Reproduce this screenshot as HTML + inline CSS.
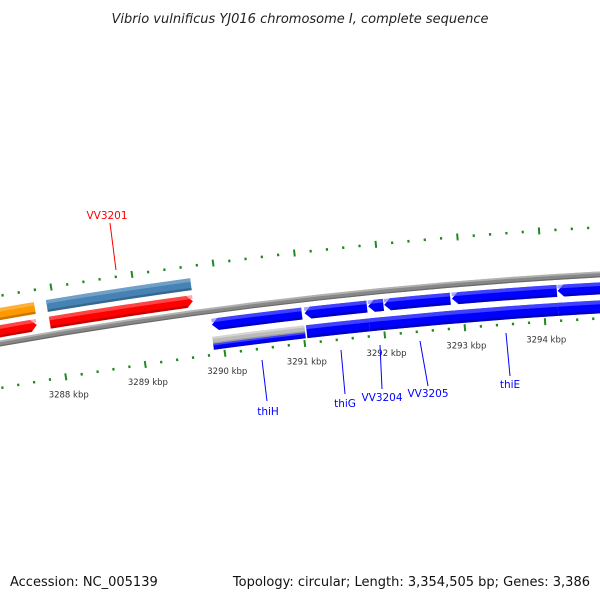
<!DOCTYPE html>
<html><head><meta charset="utf-8"><style>
html,body{margin:0;padding:0;background:#fff;}
svg{display:block;font-family:"DejaVu Sans","Liberation Sans",sans-serif;}
</style></head><body>
<svg id="chart" width="600" height="600" viewBox="0 0 600 600" xmlns="http://www.w3.org/2000/svg">
<rect width="600" height="600" fill="#fff"/>
<text x="300" y="23" text-anchor="middle" font-size="13" font-style="italic" fill="#222">Vibrio vulnificus YJ016 chromosome I, complete sequence</text>
<g id="rings"></g>
<g id="genes"></g>
<g id="labels"></g>
<text x="10" y="586" font-size="13" fill="#111">Accession: NC_005139</text>
<text x="590" y="586" text-anchor="end" font-size="13" fill="#111">Topology: circular; Length: 3,354,505 bp; Genes: 3,386</text>
</svg>
<script>
// tick data (kbp)
const majorTicks = [3286,3287,3288,3289,3290,3291,3292,3293,3294,3295,3296];
const tickLabels = ["3288 kbp","3289 kbp","3290 kbp","3291 kbp","3292 kbp","3293 kbp","3294 kbp"];
const tickLabelPos = [3288,3289,3290,3291,3292,3293,3294];
// features: start kbp, end kbp
const fwdRow1Start = [3286.5, 3287.914];
const fwdRow1End   = [3287.752, 3289.693];
const fwdRow1Color = ["#ff0000","#ff0000"];
const fwdRow2Start = [3286.5, 3287.912];
const fwdRow2End   = [3287.762, 3289.697];
const fwdRow2Color = ["#ff9900","#4682b4"];
const revRow1Start = [3289.887, 3291.04, 3291.83, 3292.03, 3292.87, 3294.18];
const revRow1End   = [3291.006, 3291.815, 3292.02, 3292.85, 3294.17, 3295.6];
const revRow2Start = [3289.87, 3291.04, 3291.82, 3294.17];
const revRow2End   = [3291.02, 3291.82, 3294.17, 3295.6];
const revRow2Gray  = [true, false, false, false];
const geneLabels = ["VV3201","thiH","thiG","VV3204","VV3205","thiE"];
const geneLabelColor = ["#ff0000","#0000ff","#0000ff","#0000ff","#0000ff","#0000ff"];

const NS="http://www.w3.org/2000/svg";
const cx=871, cy=5267, R0=5000;
const th=k=>-0.1145+(k-3291)*0.01623;
const P=(k,r)=>[cx+r*Math.sin(th(k)), cy-r*Math.cos(th(k))];
const f=v=>v.toFixed(2);
function mk(tag,attrs,parent){const e=document.createElementNS(NS,tag);for(const a in attrs)e.setAttribute(a,attrs[a]);parent.appendChild(e);return e;}
function band(k1,k2,r1,r2,dir){
  const h=0.075, m=(r1+r2)/2;
  let a=k1,b=k2;
  if(dir>0) b=k2-h; if(dir<0) a=k1+h;
  const p1=P(a,r2),p2=P(b,r2),p3=P(b,r1),p4=P(a,r1);
  let d="M"+f(p1[0])+","+f(p1[1])+" A"+r2+","+r2+" 0 0 1 "+f(p2[0])+","+f(p2[1]);
  if(dir>0){const t=P(k2,m);d+=" L"+f(t[0])+","+f(t[1]);}
  d+=" L"+f(p3[0])+","+f(p3[1])+" A"+r1+","+r1+" 0 0 0 "+f(p4[0])+","+f(p4[1]);
  if(dir<0){const t=P(k1,m);d+=" L"+f(t[0])+","+f(t[1]);}
  return d+"Z";
}
function shade(c){return {"#ff0000":["#ff7070","#a00000"],"#0000ff":["#6b6bff","#00009a"],"#4682b4":["#8ab4d6","#2c5576"],"#ff9900":["#ffc060","#a86000"],"#bbbbbb":["#e6e6e6","#888"],"#888888":["#cfcfcf","#555"]}[c]||[c,c];}
function feature(k1,k2,r1,r2,dir,c,name,g){
  const s=shade(c);
  let e=mk("path",{d:band(k1,k2,r1,r2,dir),fill:c},g);
  
  
  const hl=r2-(r2-r1)*0.3;
  let e2=mk("path",{d:band(k1,k2,hl,r2,dir===0?0:0),fill:s[0],opacity:"0.6"},g);
  
  
  const dk=r1+(r2-r1)*0.2;
  let e3=mk("path",{d:band(dir<0?k1+0.075:k1,dir>0?k2-0.075:k2,r1,dk,0),fill:s[1],opacity:"0.6"},g);
  
  
}
const rings=document.getElementById("rings"), genes=document.getElementById("genes"), labels=document.getElementById("labels");
// backbone
feature(3285,3297,R0-3,R0+3,0,"#888888","backbone",genes);
// ticks
function tickRing(rc,name){
  for(let i=0;i<majorTicks.length-1;i++){
    for(let j=0;j<5;j++){
      const k=majorTicks[i]+j*0.2, major=j===0, L=major?3.5:1.3;
      const a=P(k,rc-L),b=P(k,rc+L);
      const t=mk("line",{x1:f(a[0]),y1:f(a[1]),x2:f(b[0]),y2:f(b[1]),stroke:"#1f8a1f","stroke-width":major?2:2.2},rings);
      
      
    }
  }
}
tickRing(R0+47,"outer-ring");
tickRing(R0-44,"inner-ring");
tickLabelPos.forEach((k,i)=>{
  const p=P(k,R0-62);
  const t=mk("text",{x:f(p[0]),y:f(p[1]+3),"text-anchor":"middle","font-size":"8.5",fill:"#333"},rings);
  t.textContent=tickLabels[i];
  
  
});
// genes
fwdRow1Start.forEach((s,i)=>feature(s,fwdRow1End[i],R0+6,R0+18,1,fwdRow1Color[i],"forward-cds-"+i,genes));
fwdRow2Start.forEach((s,i)=>feature(s,fwdRow2End[i],R0+23,R0+35,0,fwdRow2Color[i],"forward-gene-"+i,genes));
revRow1Start.forEach((s,i)=>feature(s,revRow1End[i],R0-20,R0-8,-1,"#0000ff","reverse-cds-"+i,genes));
revRow2Start.forEach((s,i)=>{
  if(revRow2Gray[i]){
    feature(s,revRow2End[i],R0-33,R0-26,0,"#bbbbbb","reverse-gene-gray-"+i,genes);
    feature(s,revRow2End[i],R0-39,R0-33,0,"#0000ff","reverse-gene-"+i,genes);
  } else feature(s,revRow2End[i],R0-39,R0-26,0,"#0000ff","reverse-gene-"+i,genes);
});
// labels (annotation placement)
const lab=[[107,219,110,223,116,270],[268,415,262,360,267,401],[345,407,341,350,345,394],[382,401,380,345,382,389],[428,397,420,341,428,386],[510,388,506,333,510,376]];
geneLabels.forEach((g,i)=>{
  const L=lab[i];
  const ln=mk("line",{x1:L[2],y1:L[3],x2:L[4],y2:L[5],stroke:geneLabelColor[i],"stroke-width":1},labels);
  
  
  const t=mk("text",{x:L[0],y:L[1],"text-anchor":"middle","font-size":"10.5",fill:geneLabelColor[i]},labels);
  t.textContent=g;
  
  
});
</script>
</body></html>
